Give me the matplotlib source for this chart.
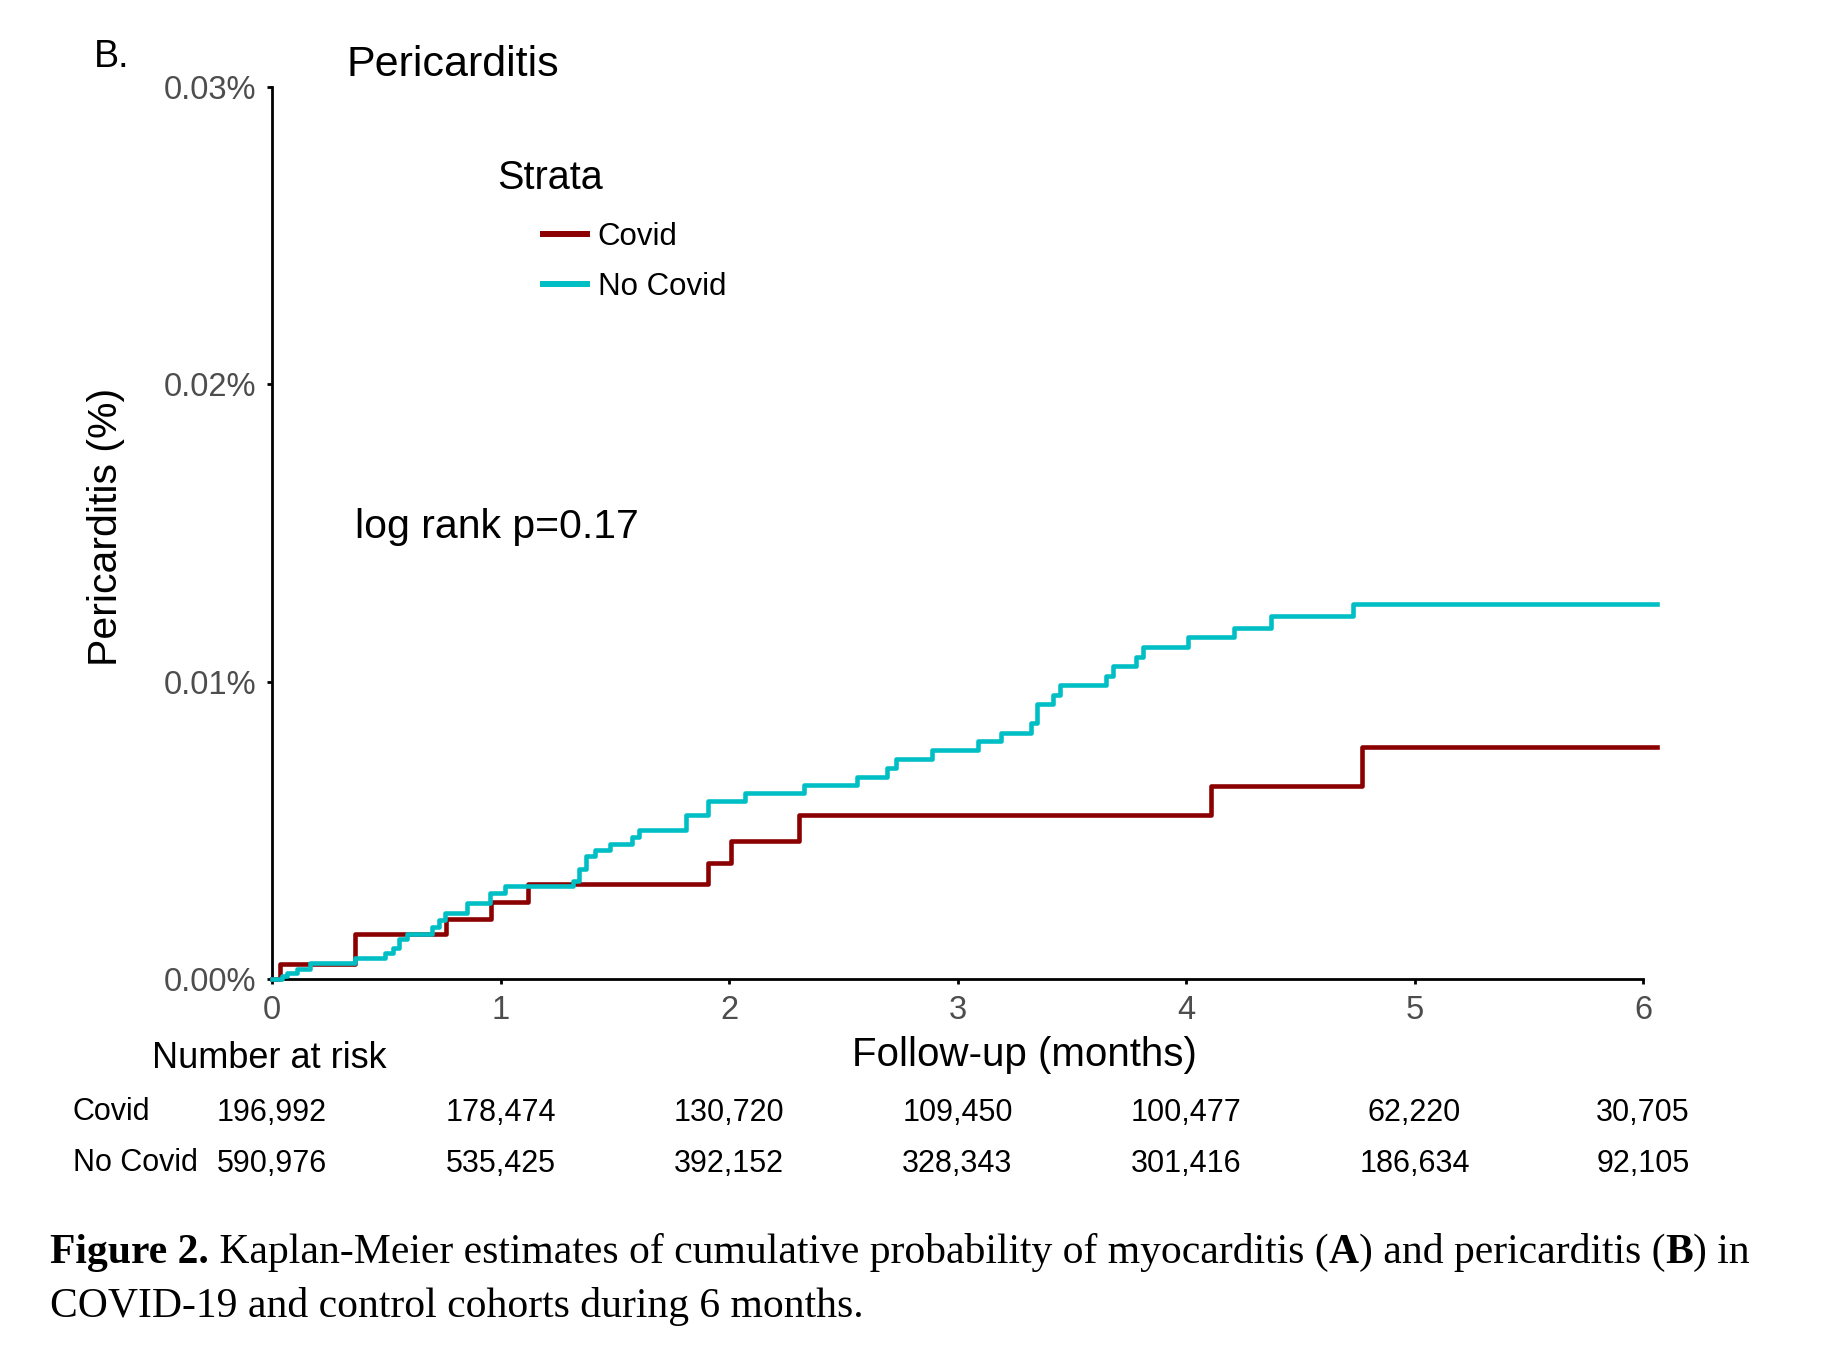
import matplotlib.pyplot as plt
from matplotlib.transforms import blended_transform_factory

plt.rcParams['font.family'] = ['Liberation Sans', 'DejaVu Sans']

# Kaplan-Meier cumulative incidence of pericarditis (in %), step times in months
covid_time = [0, 0.033, 0.362, 0.76, 0.96, 1.12, 1.91, 2.01, 2.307, 4.11, 4.77]
covid_pct = [0, 0.00049, 0.00151, 0.00203, 0.00259, 0.00321, 0.0039, 0.00465, 0.0055, 0.0065, 0.0078]

nocovid_time = [0, 0.044, 0.066, 0.109, 0.168, 0.362, 0.493, 0.53, 0.554, 0.59,
                0.70, 0.729, 0.758, 0.853, 0.955, 1.021, 1.317, 1.342, 1.375, 1.415,
                1.48, 1.576, 1.604, 1.81, 1.906, 2.07, 2.33, 2.56, 2.69, 2.73,
                2.89, 3.09, 3.19, 3.32, 3.35, 3.42, 3.45, 3.65, 3.68, 3.78,
                3.81, 4.01, 4.21, 4.37, 4.73]
nocovid_pct = [0, 0.0001, 0.00019, 0.00035, 0.00053, 0.00071, 0.00086, 0.00103, 0.00133, 0.00151,
               0.00175, 0.00198, 0.00222, 0.00257, 0.00289, 0.00312, 0.0033, 0.00371, 0.00412, 0.00435,
               0.00455, 0.00477, 0.00502, 0.0055, 0.006, 0.00626, 0.00652, 0.00681, 0.00711, 0.0074,
               0.00771, 0.00801, 0.00829, 0.00862, 0.00924, 0.00955, 0.00988, 0.0102, 0.01052, 0.01083,
               0.01117, 0.0115, 0.01181, 0.0122, 0.01262]
last_followup = 6.06

months = [0, 1, 2, 3, 4, 5, 6]
y_ticks = [0, 0.01, 0.02, 0.03]
strata = ['Covid', 'No Covid']
risk_covid = [196992, 178474, 130720, 109450, 100477, 62220, 30705]
risk_nocovid = [590976, 535425, 392152, 328343, 301416, 186634, 92105]

red = '#8B0000'
cyan = '#00BFC4'
grey = '#4D4D4D'

W, H = 1842, 1345
fig = plt.figure(figsize=(W / 100, H / 100), dpi=100)


def fx(x):
    return x / W


def fy(y):
    return 1 - y / H


# main panel
ax = fig.add_axes([fx(272), fy(979), 6.08 * 228.5 / W, (979 - 87) / H])
l1, = ax.step(covid_time + [last_followup], covid_pct + [covid_pct[-1]], where='post',
              color=red, lw=3.3, clip_on=False, zorder=3)
l2, = ax.step(nocovid_time + [last_followup], nocovid_pct + [nocovid_pct[-1]], where='post',
              color=cyan, lw=3.3, clip_on=False, zorder=4)
ax.set_xlim(0, 6.08)
ax.set_ylim(0, 0.03)
ax.set_xticks(months)
ax.set_xticklabels([str(m) for m in months])
ax.set_yticks(y_ticks)
ax.set_yticklabels([f'{v:.2f}%' for v in y_ticks])
for s in ['top', 'right']:
    ax.spines[s].set_visible(False)
for s in ['left', 'bottom']:
    ax.spines[s].set_linewidth(2)
ax.spines['bottom'].set_bounds(0, 6)
ax.spines['left'].set_bounds(0, 0.03)
ax.tick_params(axis='both', length=3.6, width=2, labelcolor=grey, labelsize=23.5, pad=8)

# titles and labels
fig.text(fx(94), fy(57), 'B.', fontsize=27, va='center')
fig.text(fx(346), fy(65), 'Pericarditis', fontsize=31, va='center')
fig.text(fx(106), fy(527), 'Pericarditis (%)', fontsize=29.5, rotation=90, ha='center', va='center')
fig.text(fx(1024), fy(1055), 'Follow-up (months)', fontsize=29, ha='center', va='center')
fig.text(fx(355), fy(527), 'log rank p=0.17', fontsize=29.5, va='center')

# legend
fig.text(fx(497), fy(178), 'Strata', fontsize=28.5, va='center')
leg = fig.legend([l1, l2], strata, loc='upper left', bbox_to_anchor=(fx(543), fy(222)),
                 frameon=False, borderpad=0, borderaxespad=0, handlelength=1.4,
                 handletextpad=0.35, labelspacing=0.65, fontsize=22.5)
for ln in leg.get_lines():
    ln.set_linewidth(4.3)

# number at risk table
fig.text(fx(269), fy(1058), 'Number at risk', fontsize=26, ha='center', va='center')
trans = blended_transform_factory(ax.transData, fig.transFigure)
fig.text(fx(73), fy(1112), strata[0], fontsize=22, va='center')
fig.text(fx(73), fy(1163), strata[1], fontsize=22, va='center')
for m, a, b in zip(months, risk_covid, risk_nocovid):
    ax.text(m, fy(1113), f'{a:,}', transform=trans, fontsize=22, ha='center', va='center', clip_on=False)
    ax.text(m, fy(1164), f'{b:,}', transform=trans, fontsize=22, ha='center', va='center', clip_on=False)

# caption with bold pieces
renderer = fig.canvas.get_renderer()
cap_font = ['Liberation Serif', 'DejaVu Serif']
lines = [
    [('Figure 2.', 'bold'), (' Kaplan-Meier estimates of cumulative probability of myocarditis (', 'normal'),
     ('A', 'bold'), (') and pericarditis (', 'normal'), ('B', 'bold'), (') in', 'normal')],
    [('COVID-19 and control cohorts during 6 months.', 'normal')],
]
for line, base in zip(lines, [1263, 1317]):
    x = fx(50)
    for txt, wt in line:
        t = fig.text(x, fy(base), txt, fontsize=30, fontweight=wt, family=cap_font, va='baseline')
        bb = t.get_window_extent(renderer=renderer)
        x += bb.width / W

fig.savefig('out.png', dpi=100)
